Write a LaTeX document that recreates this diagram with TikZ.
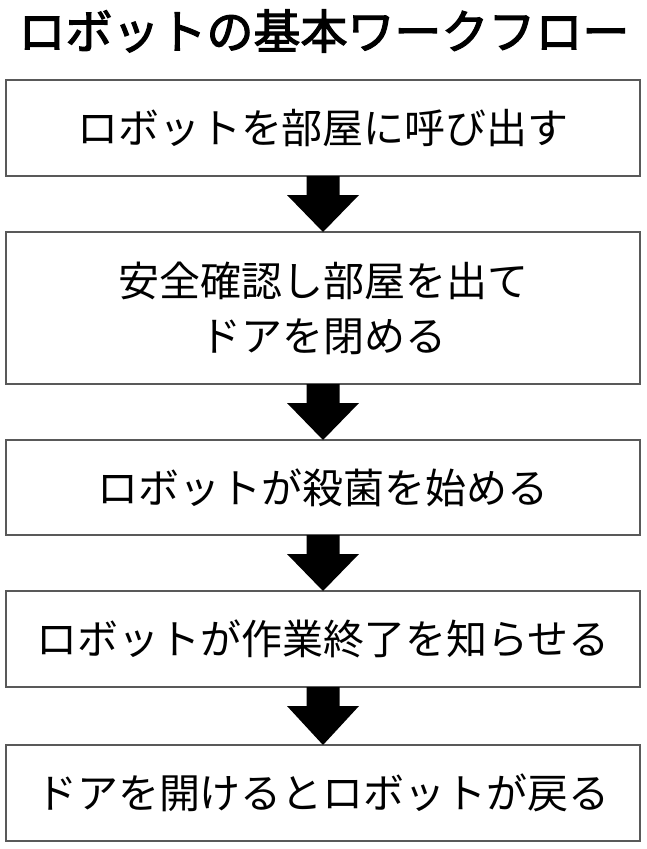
\documentclass[tikz,border=0pt]{standalone}
\usepackage{fontspec}
\setmainfont{Noto Sans CJK JP}
\newfontfamily\jpbold{Noto Sans CJK JP}[FakeBold=2.5]
\usetikzlibrary{calc}
\tikzset{
  stepbox/.style={draw=black!65, line width=1.6pt, minimum width=634pt, inner sep=0pt, outer sep=0pt, align=center, font=\fontsize{41pt}{55pt}\selectfont},
  titletext/.style={inner sep=0pt, font=\jpbold\fontsize{47pt}{50pt}\selectfont}
}
\newcommand\flowarrow[2]{%
  \fill[black] ($(#1.south)+(-16.5pt,0pt)$) -- ($(#1.south)+(-16.5pt,-19pt)$) -- ($(#1.south)+(-36pt,-19pt)$) -- (#2.north) -- ($(#1.south)+(36pt,-19pt)$) -- ($(#1.south)+(16.5pt,-19pt)$) -- ($(#1.south)+(16.5pt,0pt)$) -- cycle;}
\begin{document}
\begin{tikzpicture}[x=1pt,y=-1pt]
\useasboundingbox[fill=white] (0,0) rectangle (647,849);
\node[titletext] (title) at (324,31) {ロボットの基本ワークフロー};
\node[stepbox, minimum height=96pt] (b1) at (323,128) {ロボットを部屋に呼び出す};
\node[stepbox, minimum height=152pt] (b2) at (323,308) {安全確認し部屋を出て\\ドアを閉める};
\node[stepbox, minimum height=95pt] (b3) at (323,487.5) {ロボットが殺菌を始める};
\node[stepbox, minimum height=96pt] (b4) at (323,639) {ロボットが作業終了を知らせる};
\node[stepbox, minimum height=96pt] (b5) at (323,793) {ドアを開けるとロボットが戻る};
\flowarrow{b1}{b2}
\flowarrow{b2}{b3}
\flowarrow{b3}{b4}
\flowarrow{b4}{b5}
\end{tikzpicture}
\end{document}
